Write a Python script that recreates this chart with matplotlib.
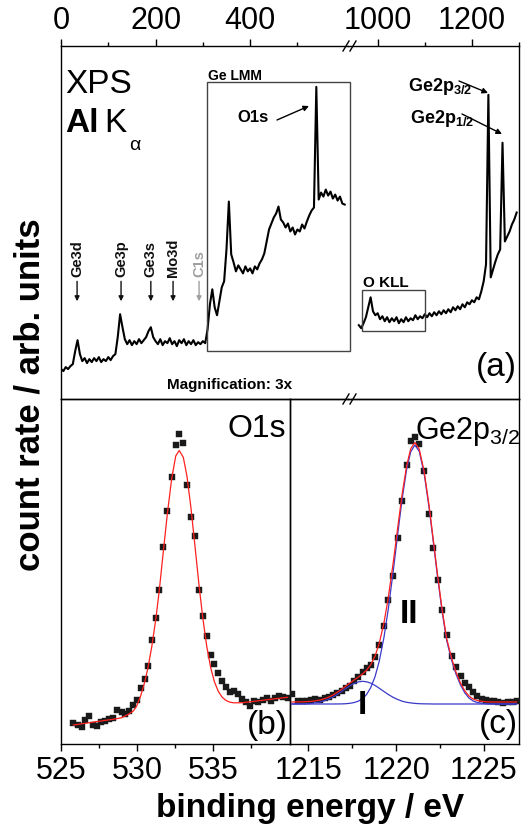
import numpy as np
import matplotlib
matplotlib.use('Agg')
import matplotlib.pyplot as plt
from matplotlib.patches import Rectangle, FancyArrowPatch
from matplotlib.lines import Line2D

plt.rcParams['font.family'] = ['Liberation Sans', 'DejaVu Sans']
plt.rcParams['mathtext.fontset'] = 'custom'
plt.rcParams['mathtext.rm'] = 'Liberation Sans'
plt.rcParams['mathtext.bf'] = 'Liberation Sans:bold'
plt.rcParams['mathtext.it'] = 'Liberation Sans:italic'

# ---------------- data: survey spectrum (a) ----------------
survey_left_E = np.arange(0, 605, 5)
survey_left_I = [30, 28, 32, 30, 33, 35, 48, 59, 45, 38, 41, 36, 40, 37, 41, 38, 42, 37, 40, 38,
                 42, 39, 43, 45, 62, 85, 72, 60, 55, 59, 54, 58, 55, 60, 56, 59, 62, 68, 72, 62,
                 58, 55, 60, 54, 58, 56, 61, 55, 58, 53, 59, 56, 60, 54, 58, 55, 59, 54, 57, 55,
                 58, 56, 70, 95, 110, 92, 84, 98, 112, 118, 150, 198, 145, 137, 128, 134, 130, 126, 133, 128,
                 131, 126, 133, 130, 136, 140, 146, 158, 170, 176, 182, 186, 193, 180, 177, 172, 176, 168, 172, 165,
                 170, 168, 175, 171, 178, 184, 189, 192, 313, 200, 207, 203, 210, 204, 208, 201, 205, 199, 203, 196,
                 195]
survey_right_E = np.arange(960, 1300, 5)
survey_right_I = [74, 71, 76, 82, 92, 102, 88, 84, 86, 80, 83, 78, 82, 77, 81, 78, 82, 76, 80, 77,
                  82, 78, 81, 79, 84, 80, 83, 81, 85, 82, 86, 83, 87, 84, 88, 85, 89, 86, 90, 87,
                  92, 89, 93, 90, 95, 92, 97, 95, 99, 97, 102, 100, 108, 118, 135, 305, 122, 130, 138, 145,
                  150, 257, 158, 163, 168, 175, 180, 187]

peak_labels = ['Ge3d', 'Ge3p', 'Ge3s', 'Mo3d', 'C1s']
peak_label_E = [34, 127, 190, 237, 292]
peak_label_colors = ['#111111', '#111111', '#111111', '#111111', '#a0a0a0']

# ---------------- data: O1s (b) ----------------
o1s_E = [525.81, 526.09, 526.36, 526.58, 526.86, 527.13, 527.39, 527.61, 527.89, 528.18,
         528.44, 528.70, 528.99, 529.21, 529.47, 529.76, 529.98, 530.24, 530.51, 530.72,
         530.97, 531.25, 531.47, 531.73, 531.99, 532.28, 532.55, 532.78, 533.05, 533.29,
         533.55, 533.82, 534.08, 534.32, 534.59, 534.85, 535.09, 535.35, 535.61, 535.86,
         536.12, 536.38, 536.66, 536.93, 537.17, 537.43, 537.70, 537.98, 538.27, 538.53,
         538.80, 539.08, 539.36, 539.63, 539.91]
o1s_I = [20.7, 19, 16.7, 24, 27.7, 19, 17.7, 22.3, 23.3, 24.7,
         25.7, 34, 32.3, 30, 33.3, 39, 44, 55.7, 65, 78.3,
         104, 126, 154.3, 197.3, 232.7, 266.7, 299, 310, 300.7, 259,
         227.3, 207.7, 154, 127.7, 107.7, 89, 80, 71, 62.7, 57,
         51.7, 52.7, 50, 45, 42.3, 38.3, 42.7, 41.7, 44.3, 45.7,
         43.3, 45.7, 47.7, 46.7, 45.7]
o1s_fit = [19.0, 19.6, 20.2, 20.7, 21.3, 21.9, 22.5, 22.9, 23.6, 24.2,
           24.8, 25.4, 26.3, 28, 30, 33, 38, 48, 62, 76,
           97, 126, 154, 192, 229, 265, 288, 293.5, 286.6, 267.7,
           236.3, 197.4, 159.3, 127.4, 97.8, 76.4, 62.5, 52.6, 46.7, 43.5,
           41.8, 41.2, 41.2, 41.3, 41.7, 42.2, 42.7, 43.2, 43.7, 44.2,
           44.7, 45.2, 45.7, 46.2, 46.7]

# ---------------- data: Ge2p3/2 (c) ----------------
ge_E = [1214.06, 1214.43, 1214.72, 1214.93, 1215.14, 1215.38, 1215.67, 1215.95, 1216.20, 1216.42,
        1216.65, 1216.90, 1217.15, 1217.37, 1217.60, 1217.85, 1218.10, 1218.32, 1218.55, 1218.80,
        1219.04, 1219.31, 1219.55, 1219.84, 1220.09, 1220.35, 1220.60, 1220.83, 1221.07, 1221.32,
        1221.60, 1221.89, 1222.11, 1222.36, 1222.63, 1222.88, 1223.16, 1223.41, 1223.67, 1223.92,
        1224.15, 1224.39, 1224.62, 1224.87, 1225.11, 1225.34, 1225.57, 1225.81, 1226.10, 1226.38,
        1226.63, 1226.86]
ge_I = [50, 43.3, 42.7, 43.5, 44, 45, 44.3, 45.7, 46.7, 49,
        51, 53.3, 55.7, 57.7, 63.3, 66.7, 71.7, 75.7, 79, 87.3,
        99.3, 117.7, 144, 168.3, 205.7, 242.7, 279, 302.7, 307.3, 300,
        273.3, 230, 195.7, 164, 134, 109, 88.3, 76.7, 68.3, 61,
        56.7, 51.7, 48.3, 45, 44.3, 43.3, 42.7, 42.3, 41, 42.3,
        41.7, 43.3]
ge_fit_total = [42.0, 42.1, 42.2, 42.4, 42.6, 43.1, 44.0, 45.4, 47.2, 49.1,
                51.7, 54.7, 58.0, 60.9, 63.9, 66.9, 70.2, 73.7, 79.1, 87.8,
                100.5, 121.1, 145.6, 181.7, 215.9, 250.4, 278.1, 295.1, 301.6, 294.9,
                272.5, 237.0, 205.6, 169.4, 133.5, 105.6, 86, 72, 61, 53,
                48, 45, 43.5, 42.8, 42.2, 42.1, 42.0, 42.0, 42.0, 42.0,
                42.0, 42.0]
ge_fit_I = [40.0, 40.1, 40.2, 40.4, 40.6, 41.1, 42.0, 43.4, 45.2, 47.1,
            49.6, 52.6, 55.7, 58.2, 60.5, 62.1, 62.7, 62.2, 60.9, 58.6,
            55.8, 52.5, 49.6, 46.6, 44.5, 42.8, 41.7, 41.1, 40.6, 40.3,
            40.15, 40.1, 40.0, 40.0, 40.0, 40.0, 40.0, 40.0, 40.0, 40.0,
            40.0, 40.0, 40.0, 40.0, 40.0, 40.0, 40.0, 40.0, 40.0, 40.0,
            40.0, 40.0]
ge_fit_II = [40.0, 40.0, 40.0, 40.0, 40.0, 40.0, 40.0, 40.0, 40.0, 40.0,
             40.05, 40.1, 40.3, 40.7, 41.4, 42.8, 45.5, 49.5, 56.2, 67.2,
             82.7, 106.6, 134, 173.1, 209.4, 245.6, 274.4, 292, 299, 292.6,
             270.3, 235, 203.6, 167.4, 131.5, 103.6, 84, 70, 59, 51,
             46, 43, 41.5, 40.8, 40.2, 40.1, 40.0, 40.0, 40.0, 40.0,
             40.0, 40.0]

# ---------------- figure layout ----------------
W, H = 529, 828
fig = plt.figure(figsize=(W / 100, H / 100), dpi=100)


def fx(px):
    return px / W


def fy(py):
    return 1 - py / H


def rect(x0, y0, x1, y1):
    return [fx(x0), fy(y1), (x1 - x0) / W, (y1 - y0) / H]


ax_l = fig.add_axes(rect(61, 47, 348, 400))
ax_r = fig.add_axes(rect(348, 47, 519, 400))
ax_b = fig.add_axes(rect(61, 400, 290, 745))
ax_c = fig.add_axes(rect(290, 400, 519, 745))

for ax in (ax_l, ax_r, ax_b, ax_c):
    ax.set_facecolor('none')
    for s in ax.spines.values():
        s.set_linewidth(1.0)
    ax.set_yticks([])
    ax.tick_params(axis='y', left=False, right=False, labelleft=False)

# (a) survey
ax_l.plot(survey_left_E, survey_left_I, color='black', lw=1.5)
ax_r.plot(survey_right_E, survey_right_I, color='black', lw=1.5)
ax_l.set_xlim(0, 607)
ax_r.set_xlim(937, 1300)
ax_l.set_ylim(0, 354)
ax_r.set_ylim(0, 354)
ax_l.spines['right'].set_visible(False)
ax_r.spines['left'].set_visible(False)
ax_l.set_xticks([0, 200, 400])
ax_l.set_xticks([100, 300, 500], minor=True)
ax_r.set_xticks([1000, 1200])
ax_r.set_xticks([1100, 1300], minor=True)
for ax in (ax_l, ax_r):
    ax.xaxis.tick_top()
    ax.tick_params(axis='x', which='both', direction='out', top=True, bottom=False,
                   labeltop=True, labelbottom=False, labelsize=22, pad=3, width=1.0)
    ax.tick_params(axis='x', which='major', length=5)
    ax.tick_params(axis='x', which='minor', length=3)

# boxes
ax_l.add_patch(Rectangle((309, 48), 611 - 309, 270, fill=False, ec='#444444', lw=1.0,
                         clip_on=False, zorder=5))
ax_r.add_patch(Rectangle((967, 68), 1100 - 967, 41, fill=False, ec='#444444', lw=1.0,
                         clip_on=False, zorder=5))
ax_l.text(310, 321, 'Ge LMM', fontsize=10, weight='bold', ha='left', va='baseline')
ax_r.text(968, 113, 'O KLL', fontsize=11, weight='bold', ha='left', va='baseline')

for lab, e, c in zip(peak_labels, peak_label_E, peak_label_colors):
    ax_l.text(e, 123, lab, rotation=90, ha='center', va='bottom', fontsize=10.5,
              weight='bold', color=c)
    ax_l.annotate('', xy=(e, 98), xytext=(e, 118),
                  arrowprops=dict(arrowstyle='-|>', lw=1.0, color=c, mutation_scale=7,
                                  shrinkA=0, shrinkB=0))


def farrow(x0, y0, x1, y1, color='black'):
    fig.add_artist(FancyArrowPatch((fx(x0), fy(y0)), (fx(x1), fy(y1)),
                                   transform=fig.transFigure, arrowstyle='-|>',
                                   mutation_scale=8, lw=1.0, color=color,
                                   shrinkA=0, shrinkB=0))


def ftext(x, y, s, **kw):
    fig.text(fx(x), fy(y), s, **kw)


ftext(65, 93, 'XPS', fontsize=24, ha='left', va='baseline')
ftext(65, 132, 'Al', fontsize=24, weight='bold', ha='left', va='baseline')
ftext(104, 132, 'K', fontsize=24, ha='left', va='baseline')
ftext(129, 150, 'α', fontsize=14, ha='left', va='baseline')

ftext(253, 122, 'O1s', fontsize=12, weight='bold', ha='center', va='baseline')
farrow(277, 121, 309, 107)
ftext(408, 91, r'Ge2p$_{\mathbf{3/2}}$', fontsize=13, weight='bold', ha='left', va='baseline')
farrow(459, 82, 488, 94)
ftext(410, 123, r'Ge2p$_{\mathbf{1/2}}$', fontsize=13, weight='bold', ha='left', va='baseline')
farrow(462, 115, 502, 135)

ftext(230, 389, 'Magnification: 3x', fontsize=11, weight='bold', ha='center', va='baseline')
ftext(517, 376, '(a)', fontsize=24, ha='right', va='baseline')

# break marks
for y0 in (47, 400):
    for x0 in (343, 350):
        fig.add_artist(Line2D([fx(x0), fx(x0 + 6)], [fy(y0 + 5), fy(y0 - 5)],
                              transform=fig.transFigure, color='black', lw=1.0))

# (b) O1s
ax_b.plot(o1s_E, o1s_I, 's', color='#1a1a1a', ms=4.3, mec='#1a1a1a', mew=0.3, zorder=3)
ax_b.plot(o1s_E, o1s_fit, color='#ff2020', lw=0.9, zorder=4)
ax_b.set_xlim(525, 540.07)
ax_b.set_ylim(0, 345)
ax_b.set_xticks([525, 530, 535])
ax_b.set_xticks([527.5, 532.5, 537.5], minor=True)

# (c) Ge2p3/2
ax_c.plot(ge_E, ge_I, 's', color='#1a1a1a', ms=4.3, mec='#1a1a1a', mew=0.3, zorder=3)
ax_c.plot(ge_E, ge_fit_I, color='#3a3ac8', lw=0.9, zorder=4)
ax_c.plot(ge_E, ge_fit_II, color='#3a3ac8', lw=0.9, zorder=4)
ax_c.plot(ge_E, ge_fit_total, color='#ff2020', lw=0.9, zorder=5)
ax_c.set_xlim(1213.96, 1227)
ax_c.set_ylim(0, 345)
ax_c.set_xticks([1215, 1220, 1225])
ax_c.set_xticks([1217.5, 1222.5], minor=True)

for ax in (ax_b, ax_c):
    ax.tick_params(axis='x', which='both', direction='out', top=False, bottom=True,
                   labelsize=22, pad=3, width=1.0)
    ax.tick_params(axis='x', which='major', length=5)
    ax.tick_params(axis='x', which='minor', length=3)

ftext(286, 437, 'O1s', fontsize=23, ha='right', va='baseline')
ftext(288, 734, '(b)', fontsize=24, ha='right', va='baseline')
ftext(415, 439, r'Ge2p$_{\mathregular{3/2}}$', fontsize=22, ha='left', va='baseline')
ftext(409, 623, 'II', fontsize=24, weight='bold', ha='center', va='baseline')
ftext(362, 714, 'I', fontsize=24, weight='bold', ha='center', va='baseline')
ftext(518, 733, '(c)', fontsize=24, ha='right', va='baseline')

# axis labels
ftext(30, 395, 'count rate / arb. units', rotation=90, fontsize=25, weight='bold',
      ha='center', va='center')
ftext(310, 817, 'binding energy / eV', fontsize=24, weight='bold', ha='center', va='baseline')

fig.savefig('out.png', dpi=100)
